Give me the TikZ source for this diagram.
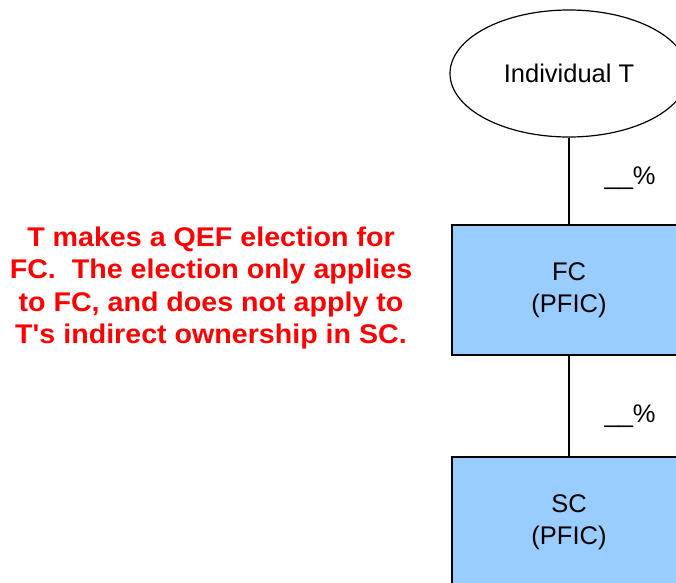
\documentclass[tikz,border=0pt]{standalone}
\usepackage{fontspec}
\setmainfont{Liberation Sans}
\newfontfamily\notefont[FakeStretch=1.06]{Liberation Sans}
\usetikzlibrary{shapes.geometric, positioning}
\definecolor{pficblue}{RGB}{153,204,255}

\begin{document}
\begin{tikzpicture}[
      x=1pt, y=-1pt, node distance=2cm, on grid,
      every node/.style={font=\fontsize{25.5}{32}\selectfont},
      owner/.style={draw, ellipse, line width=1.2pt, minimum width=238pt, minimum height=127pt},
      entity/.style={draw, fill=pficblue, line width=1.2pt, minimum width=234pt, minimum height=130pt, align=center},
      share/.style={right, inner sep=0pt, xshift=35pt},
      ]

      \clip (0,0) rectangle (676,582);

      \node[owner]                      (indT) at (569,73.5)  {Individual T};
      \node[entity, below=216.5pt of indT] (fc)             {FC\\(PFIC)};
      \node[entity, below=232pt of fc]     (sc)             {SC\\(PFIC)};

      \draw[line width=1.2pt] (indT) -- node[share, yshift=3pt] {\_\_\%} (fc);
      \draw[line width=1.2pt] (fc) -- node[share, yshift=-10pt] {\_\_\%} (sc);

      \node[align=center, text=red, font=\notefont\fontsize{27}{32.5}\selectfont\bfseries]
            (note) at (211,288) {T makes a QEF election for\\
            FC.\ \ The election only applies\\
            to FC, and does not apply to\\
            T's indirect ownership in SC.};
    \end{tikzpicture}
\end{document}
